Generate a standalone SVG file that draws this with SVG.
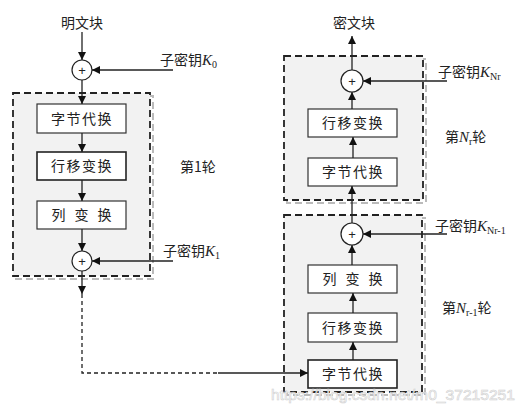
<svg xmlns="http://www.w3.org/2000/svg" width="526" height="413" viewBox="0 0 526 413">
<style>
.round{fill:#f2f2f2;stroke:#222;stroke-width:1.8;stroke-dasharray:7 4}
.shadow{fill:none;stroke:#bbb;stroke-width:2;stroke-dasharray:7 4}
.box{fill:#fff;stroke:#333;stroke-width:1.2}
.box2{fill:#fff;stroke:#222;stroke-width:1.6}
.xor{fill:#fff;stroke:#222;stroke-width:1.2}
.t{font-family:"Noto Sans CJK SC","Noto Sans",sans-serif;font-size:14px;fill:#222}
.bt{font-family:"Noto Sans CJK SC","Noto Sans",sans-serif;font-size:14px;fill:#222;text-anchor:middle;letter-spacing:1.5px}
.sp{letter-spacing:9px}
.k{font-family:"Liberation Serif",serif;font-style:italic;font-size:15px}
.s{font-family:"Liberation Serif",serif;font-size:10px}
.plus{font-family:"Liberation Sans",sans-serif;font-size:13px;fill:#222;text-anchor:middle}
.ln{stroke:#222;stroke-width:1.3;fill:none}
.dl{stroke:#222;stroke-width:1.3;fill:none;stroke-dasharray:4 3}
.wm{font-family:"Liberation Sans",sans-serif;font-size:15px;fill:#fff;stroke:#ccc;stroke-width:0.6;opacity:0.9}
</style>
<defs>
<marker id="ah" viewBox="0 0 10 10" refX="10" refY="5" markerWidth="8" markerHeight="8" markerUnits="userSpaceOnUse" orient="auto">
<path d="M0,0 L10,5 L0,10 z" fill="#111"/>
</marker>
</defs>

<g id="round1">
<rect class="shadow" x="16" y="96" width="137" height="183"/>
<rect class="round" x="13" y="93" width="137" height="183"/>
<text class="t" x="180" y="172">第1轮</text>
</g>
<g id="roundNr">
<rect class="shadow" x="287" y="59" width="139" height="144"/>
<rect class="round" x="284" y="56" width="139" height="144"/>
<text class="t" x="445" y="142">第<tspan class="k">N</tspan><tspan class="s" dy="3">r</tspan><tspan dy="-3">轮</tspan></text>
</g>
<g id="roundNr1">
<rect class="shadow" x="287" y="218" width="138" height="177"/>
<rect class="round" x="284" y="215" width="138" height="177"/>
<text class="t" x="442" y="313">第<tspan class="k">N</tspan><tspan class="s" dy="3">r-1</tspan><tspan dy="-3">轮</tspan></text>
</g>

<g id="plaintext"><text class="t" x="82" y="28" text-anchor="middle">明文块</text></g>
<g id="ciphertext"><text class="t" x="354" y="28" text-anchor="middle">密文块</text></g>

<g id="xor0"><circle class="xor" cx="82" cy="70" r="10"/><text class="plus" x="82" y="75">+</text></g>
<g id="k0"><text class="t" x="160" y="65">子密钥<tspan class="k">K</tspan><tspan class="s" dy="3">0</tspan></text></g>
<g id="l_sub"><rect class="box" x="37" y="104" width="89" height="29"/><text class="bt" x="82" y="124">字节代换</text></g>
<g id="l_shift"><rect class="box2" x="37" y="152" width="89" height="28"/><text class="bt" x="82" y="171">行移变换</text></g>
<g id="l_mix"><rect class="box" x="37" y="201" width="89" height="28"/><text class="bt sp" x="86" y="220">列变换</text></g>
<g id="xor1"><circle class="xor" cx="82" cy="261" r="10"/><text class="plus" x="82" y="266">+</text></g>
<g id="k1"><text class="t" x="163" y="256">子密钥<tspan class="k">K</tspan><tspan class="s" dy="3">1</tspan></text></g>

<g id="r_sub1"><rect class="box2" x="308" y="360" width="89" height="28"/><text class="bt" x="353" y="379">字节代换</text></g>
<g id="r_shift1"><rect class="box" x="308" y="313" width="89" height="29"/><text class="bt" x="353" y="333">行移变换</text></g>
<g id="r_mix1"><rect class="box" x="308" y="265" width="89" height="28"/><text class="bt sp" x="357" y="284">列变换</text></g>
<g id="xorNr1"><circle class="xor" cx="352" cy="234" r="11"/><text class="plus" x="352" y="239">+</text></g>
<g id="kNr1"><text class="t" x="435" y="231">子密钥<tspan class="k">K</tspan><tspan class="s" dy="3">Nr-1</tspan></text></g>

<g id="r_sub2"><rect class="box" x="308" y="158" width="89" height="28"/><text class="bt" x="353" y="177">字节代换</text></g>
<g id="r_shift2"><rect class="box" x="308" y="109" width="89" height="28"/><text class="bt" x="353" y="128">行移变换</text></g>
<g id="xorNr"><circle class="xor" cx="352" cy="81" r="11"/><text class="plus" x="352" y="86">+</text></g>
<g id="kNr"><text class="t" x="438" y="77">子密钥<tspan class="k">K</tspan><tspan class="s" dy="3">Nr</tspan></text></g>

<g id="connectors">
<line class="ln" x1="82" y1="32" x2="82" y2="60" marker-end="url(#ah)"/>
<line class="ln" x1="173" y1="70" x2="92" y2="70" marker-end="url(#ah)"/>
<line class="ln" x1="82" y1="80" x2="82" y2="104" marker-end="url(#ah)"/>
<line class="ln" x1="82" y1="133" x2="82" y2="152" marker-end="url(#ah)"/>
<line class="ln" x1="82" y1="180" x2="82" y2="201" marker-end="url(#ah)"/>
<line class="ln" x1="82" y1="229" x2="82" y2="251" marker-end="url(#ah)"/>
<line class="ln" x1="173" y1="261" x2="92" y2="261" marker-end="url(#ah)"/>
<line class="ln" x1="82" y1="271" x2="82" y2="294" marker-end="url(#ah)"/>
<path class="dl" d="M82,294 V373 H218"/>
<line class="ln" x1="218" y1="373" x2="308" y2="373" marker-end="url(#ah)"/>
<line class="ln" x1="353" y1="360" x2="353" y2="342" marker-end="url(#ah)"/>
<line class="ln" x1="353" y1="313" x2="353" y2="293" marker-end="url(#ah)"/>
<line class="ln" x1="352" y1="265" x2="352" y2="245" marker-end="url(#ah)"/>
<line class="ln" x1="447" y1="234" x2="363" y2="234" marker-end="url(#ah)"/>
<line class="ln" x1="352" y1="223" x2="352" y2="186" marker-end="url(#ah)"/>
<line class="ln" x1="353" y1="158" x2="353" y2="137" marker-end="url(#ah)"/>
<line class="ln" x1="352" y1="109" x2="352" y2="92" marker-end="url(#ah)"/>
<line class="ln" x1="447" y1="81" x2="363" y2="81" marker-end="url(#ah)"/>
<line class="ln" x1="352" y1="70" x2="352" y2="36" marker-end="url(#ah)"/>
</g>

<text class="wm" x="271" y="400" textLength="244" lengthAdjust="spacingAndGlyphs">https://blog.csdn.net/m0_37215251</text>
</svg>
